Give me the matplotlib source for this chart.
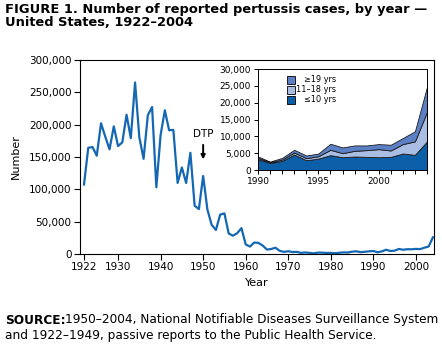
import matplotlib
matplotlib.use("Agg")
import matplotlib.pyplot as plt
from matplotlib.patches import Rectangle

years = list(range(1922, 2005))
cases = [107473, 164191, 165418, 152003, 202210, 181411, 161799, 197371, 166914, 172559,
         215343, 179135, 265269, 180518, 147237, 214652, 227319, 103188, 183866, 222202,
         191383, 191890, 109873, 133792, 109860, 156517, 74715, 69479, 120718, 68687,
         45030, 37129, 60886, 62786, 31732, 28295, 32148, 40005, 14809, 11468,
         17749, 17135, 13005, 6799, 7717, 9718, 4810, 3285, 4249, 3036,
         3287, 1759, 2402, 1738, 1010, 2177, 2063, 1623, 1730, 1248,
         1895, 2463, 2276, 3589, 4195, 2823, 3450, 4157, 4570, 2719,
         4083, 6586, 4617, 5137, 7796, 6564, 7405, 7288, 7867, 7580,
         9771, 11647, 25827]

inset_years = list(range(1990, 2005))
age_le10 = [3200, 2100, 2700, 4600, 2900, 3400, 4400, 3800, 4000, 3900, 3800, 3900, 4900, 4500, 8500]
age_11_18 = [400, 200, 400, 600, 600, 700, 1600, 1200, 1700, 2000, 2400, 1900, 2800, 4000, 8800]
age_ge19 = [400, 200, 500, 800, 800, 800, 1800, 1700, 1600, 1400, 1500, 1700, 1800, 3000, 7400]

main_ticks = [1922, 1930, 1940, 1950, 1960, 1970, 1980, 1990, 2000]
y_ticks = [0, 50000, 100000, 150000, 200000, 250000, 300000]
inset_yticks = [0, 5000, 10000, 15000, 20000, 25000, 30000]
inset_xlabels = [1990, 1995, 2000]
legend_labels = ["≥19 yrs", "11–18 yrs", "≤10 yrs"]

c_line = "#1467b3"
c_le10 = "#0a5fa8"
c_1118 = "#aabde3"
c_ge19 = "#5b80c6"

plt.rcParams['font.family'] = ['DejaVu Sans']
fig = plt.figure(figsize=(4.42, 3.51), dpi=100)
W, H = 442, 351

def fx(px):
    return px / W

def fy(py):
    return 1 - py / H

# Title
fig.text(fx(5), fy(3), "FIGURE 1. Number of reported pertussis cases, by year —\nUnited States, 1922–2004",
         fontsize=9.4, fontweight='bold', va='top', ha='left', linespacing=0.98)

# Main axes
ax = fig.add_axes([fx(80), fy(254), fx(434) - fx(80), fy(60) - fy(254)])
ax.plot(years, cases, color=c_line, lw=1.6)
ax.set_xlim(1921.06, 2004.25)
ax.set_ylim(0, 300000)
ax.set_xticks(main_ticks)
ax.set_yticks(y_ticks)
ax.set_yticklabels([f"{v:,}" for v in y_ticks])
ax.tick_params(labelsize=7.5, direction='out', length=4, width=0.8, pad=2)
for s in ax.spines.values():
    s.set_linewidth(0.8)
ax.set_xlabel("Year", fontsize=8, labelpad=4)
ax.set_ylabel("Number", fontsize=8, labelpad=6)

ax.annotate("", xy=(1950, 142000), xytext=(1950, 173000),
            arrowprops=dict(arrowstyle='-|>', color='black', lw=1.4, mutation_scale=6))
ax.text(1950, 178000, "DTP", fontsize=7.5, ha='center', va='bottom')

# Inset
ins = fig.add_axes([fx(258), fy(170), fx(427) - fx(258), fy(69) - fy(170)])
ins.stackplot(inset_years, age_le10, age_11_18, age_ge19,
              colors=[c_le10, c_1118, c_ge19], edgecolor='#1a1a1a', linewidth=0.6)
ins.set_xlim(1990, 2004)
ins.set_ylim(0, 30000)
ins.set_xticks(inset_years, minor=True)
ins.set_xticks(inset_xlabels)
ins.set_yticks(inset_yticks)
ins.set_yticklabels([f"{v:,}" for v in inset_yticks])
ins.tick_params(which='both', labelsize=6.5, direction='out', length=3, width=0.7, pad=2)
for s in ins.spines.values():
    s.set_linewidth(0.7)

leg_rows = [80, 90, 100]
leg_colors = [c_ge19, c_1118, c_le10]
for py, col, lab in zip(leg_rows, leg_colors, legend_labels):
    fig.patches.append(Rectangle((fx(287), fy(py + 4)), fx(8), fy(0) - fy(8), transform=fig.transFigure,
                                 facecolor=col, edgecolor='black', linewidth=0.6))
    fig.text(fx(336), fy(py), lab, fontsize=5.9, ha='right', va='center')

# Source
fig.text(fx(5), fy(320), "SOURCE:", fontsize=8.7, fontweight='bold', ha='left', va='center')
fig.text(fx(65), fy(320), "1950–2004, National Notifiable Diseases Surveillance System",
         fontsize=8.7, ha='left', va='center')
fig.text(fx(5), fy(336), "and 1922–1949, passive reports to the Public Health Service.",
         fontsize=8.7, ha='left', va='center')

fig.savefig("out.png", dpi=100)
